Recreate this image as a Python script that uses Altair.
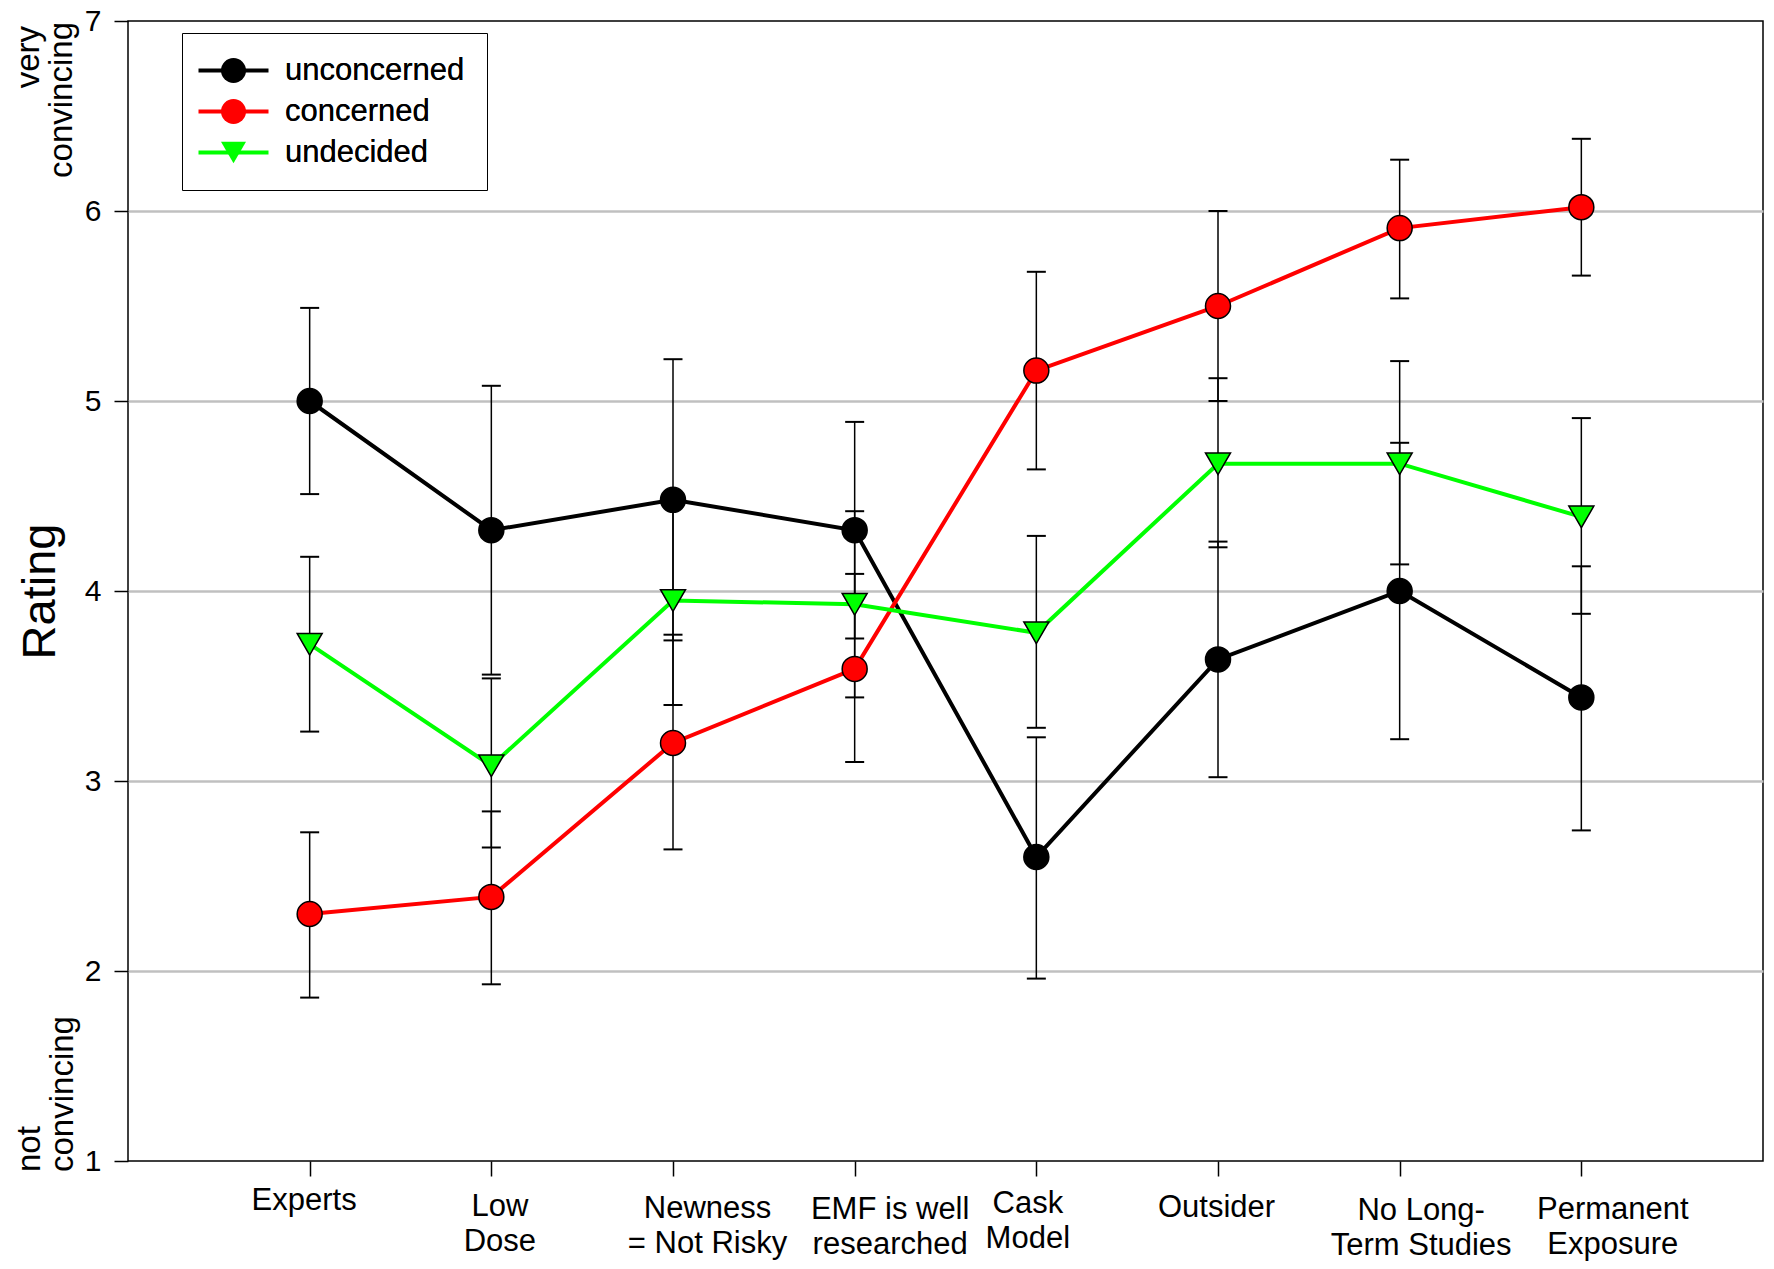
import altair as alt
import pandas as pd

categories = ["Experts", "Low|Dose", "Newness|= Not Risky", "EMF is well|researched",
              "Cask|Model", "Outsider", "No Long-|Term Studies", "Permanent|Exposure"]
groups = ["unconcerned", "concerned", "undecided"]
colors = ["#000000", "#ff0000", "#00ff00"]
shapes = ["circle", "circle", "triangle-down"]

unconcerned = [5.00, 4.32, 4.48, 4.32, 2.60, 3.64, 4.00, 3.44]
unconcerned_hi = [5.49, 5.08, 5.22, 4.89, 3.23, 4.26, 4.78, 4.13]
unconcerned_lo = [4.51, 3.56, 3.74, 3.75, 1.96, 3.02, 3.22, 2.74]

concerned = [2.30, 2.39, 3.20, 3.59, 5.16, 5.50, 5.91, 6.02]
concerned_hi = [2.73, 2.84, 3.77, 4.09, 5.68, 6.00, 6.27, 6.38]
concerned_lo = [1.86, 1.93, 2.64, 3.10, 4.64, 5.00, 5.54, 5.66]

undecided = [3.72, 3.08, 3.95, 3.93, 3.78, 4.67, 4.67, 4.39]
undecided_hi = [4.18, 3.54, 4.50, 4.42, 4.29, 5.12, 5.21, 4.91]
undecided_lo = [3.26, 2.65, 3.40, 3.44, 3.28, 4.23, 4.14, 3.88]

# small per-label nudges of the category labels, as placed in the original figure
label_dx = [-6, 8, 34, 35, -9, -2, 21, 31]
label_dy = [-4, 2, 4, 5, -1, 3, 6, 5]

series = {
    "unconcerned": (unconcerned, unconcerned_lo, unconcerned_hi),
    "concerned": (concerned, concerned_lo, concerned_hi),
    "undecided": (undecided, undecided_lo, undecided_hi),
}
rows = []
for g in groups:
    m, lo, hi = series[g]
    for i, c in enumerate(categories):
        rows.append(dict(category=c, idx=i, group=g, series=g, value=m[i], lo=lo[i], hi=hi[i]))
df = pd.DataFrame(rows)

FONT = "Liberation Sans"
cat_list = "[" + ",".join("'" + c + "'" for c in categories) + "]"
dx_expr = "[" + ",".join(str(v) for v in label_dx) + "][indexof(" + cat_list + ", datum.value)]"
dy_expr = "13 + [" + ",".join(str(v) for v in label_dy) + "][indexof(" + cat_list + ", datum.value)]"

x_enc = alt.X(
    "category:N", sort=categories,
    scale=alt.Scale(type="point", padding=1),
    axis=alt.Axis(title=None, labelExpr="split(datum.label, '|')", labelAngle=0,
                  labelFontSize=31, labelFont=FONT, labelColor="black",
                  labelPadding=alt.ExprRef(expr=dy_expr),
                  labelOffset=alt.ExprRef(expr=dx_expr),
                  labelLineHeight=35, labelBaseline="top", labelLimit=0,
                  labelOverlap=False,
                  tickSize=15, tickColor="black", tickWidth=1.5,
                  domain=False, grid=False),
)
y_scale = alt.Scale(domain=[1, 7], nice=False, zero=False)
y_axis = alt.Axis(
    values=[1, 2, 3, 4, 5, 6, 7], title="Rating",
    titleFontSize=47, titleFont=FONT, titleFontWeight="normal", titleColor="black",
    titleX=-74, titleY=570, titleAngle=270, titleAlign="center", titleBaseline="alphabetic",
    labelFontSize=30, labelFont=FONT, labelColor="black", labelPadding=13,
    tickSize=14, tickColor="black", tickWidth=1.5, domain=False, grid=True,
    gridColor={"condition": {"test": "datum.value == 1 || datum.value == 7", "value": "transparent"},
               "value": "#c0c0c0"},
    gridWidth=2.5,
)

legend_common = dict(title=None, orient="none", legendX=54, legendY=12, padding=22,
                     rowPadding=9, symbolSize=625, symbolOffset=14, labelOffset=36,
                     labelFontSize=31, labelFont=FONT, labelColor="black", labelLimit=0)

rules = alt.Chart(df).mark_rule(color="black", strokeWidth=1.5).encode(
    x=x_enc, y=alt.Y("lo:Q", scale=y_scale, axis=y_axis), y2="hi:Q")
caps_lo = alt.Chart(df).mark_tick(color="black", thickness=2, size=19, opacity=1).encode(
    x=x_enc, y=alt.Y("lo:Q", scale=y_scale, axis=y_axis))
caps_hi = alt.Chart(df).mark_tick(color="black", thickness=2, size=19, opacity=1).encode(
    x=x_enc, y=alt.Y("hi:Q", scale=y_scale, axis=y_axis))

lines = alt.Chart(df).mark_line(strokeWidth=4).encode(
    x=x_enc, y=alt.Y("value:Q", scale=y_scale, axis=y_axis),
    stroke=alt.Stroke("series:N", sort=groups, scale=alt.Scale(range=colors),
                      legend=alt.Legend(symbolType="M-2.8,0L2.8,0", symbolStrokeWidth=4,
                                        strokeColor="black", fillColor="white",
                                        **legend_common)),
    order=alt.Order("idx:Q"),
)
points = alt.Chart(df).mark_point(filled=True, size=625, stroke="black", strokeWidth=1.5,
                                  opacity=1).encode(
    x=x_enc, y=alt.Y("value:Q", scale=y_scale, axis=y_axis),
    fill=alt.Fill("group:N", scale=alt.Scale(domain=groups, range=colors),
                  legend=alt.Legend(symbolStrokeColor="black", symbolStrokeWidth=1.5, **legend_common)),
    shape=alt.Shape("group:N", scale=alt.Scale(domain=groups, range=shapes),
                    legend=alt.Legend(symbolStrokeColor="black", symbolStrokeWidth=1.5, **legend_common)),
)


def annot(txt, xpos, ypos, align):
    return alt.Chart(pd.DataFrame({"t": [txt]})).mark_text(
        angle=270, align=align, baseline="alphabetic", font=FONT, fontSize=33, color="black"
    ).encode(text="t:N", x=alt.value(xpos), y=alt.value(ypos))


texts = [
    annot("very", -89, 5, "right"),
    annot("convincing", -56, 1, "right"),
    annot("not", -88, 1151, "left"),
    annot("convincing", -55, 1151, "left"),
]

chart = alt.layer(rules, caps_lo, caps_hi, lines, points, *texts).properties(
    width=1635, height=1140,
    padding={"left": 120, "top": 13, "right": 3, "bottom": 100},
    autosize=alt.AutoSizeParams(type="none"),
).configure_view(stroke="black", strokeWidth=1.5)

chart.save("out.html", embed_options={"renderer": "svg", "actions": False})
